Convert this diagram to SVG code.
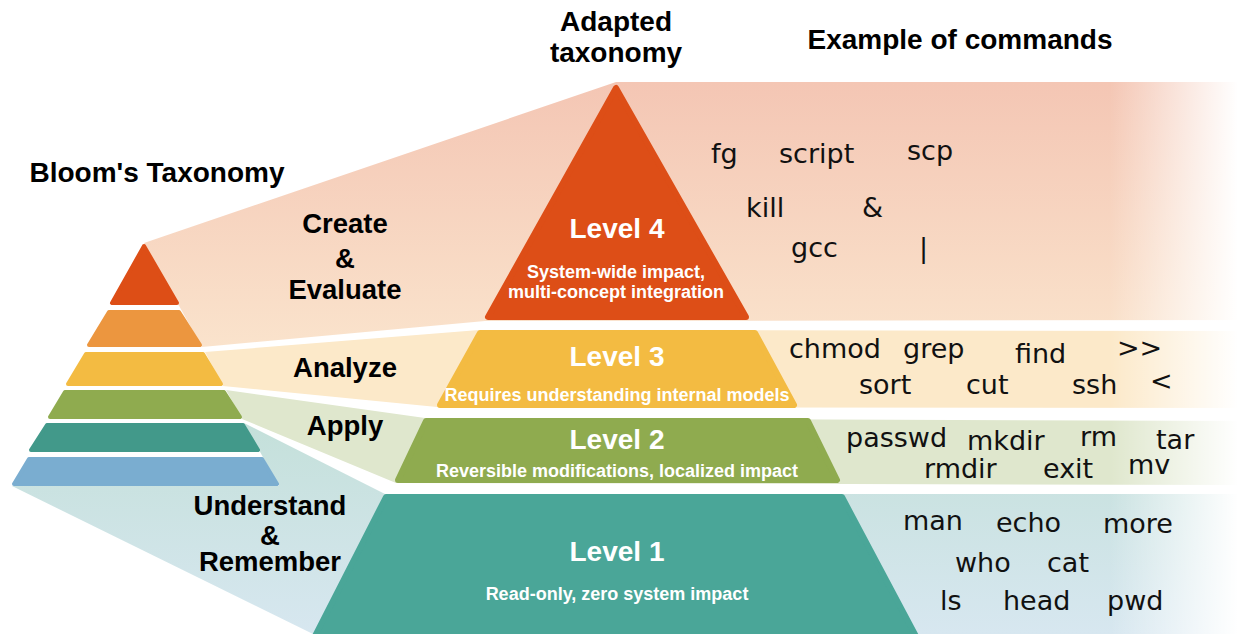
<svg xmlns="http://www.w3.org/2000/svg" width="1248" height="634" viewBox="0 0 1248 634">
<defs>
<linearGradient id="gPink" gradientUnits="userSpaceOnUse" x1="0" y1="83" x2="0" y2="347">
<stop offset="0" stop-color="#F4C6B4"/><stop offset="1" stop-color="#FAE3CC"/>
</linearGradient>
<linearGradient id="gTeal" gradientUnits="userSpaceOnUse" x1="0" y1="423" x2="0" y2="634">
<stop offset="0" stop-color="#C4E0DA"/><stop offset="1" stop-color="#D7E7F0"/>
</linearGradient>
<linearGradient id="gFade" gradientUnits="userSpaceOnUse" x1="1110" y1="0" x2="1238" y2="0">
<stop offset="0" stop-color="#FFFFFF" stop-opacity="0"/><stop offset="1" stop-color="#FFFFFF" stop-opacity="1"/>
</linearGradient>
</defs>
<style>
.h{font-family:"Liberation Sans",Arial,sans-serif;font-weight:bold;font-size:27.5px;fill:#000;text-anchor:middle}
.hh{font-family:"Liberation Sans",Arial,sans-serif;font-weight:bold;font-size:28px;fill:#000;text-anchor:middle}
.lv{font-family:"Liberation Sans",Arial,sans-serif;font-weight:bold;font-size:28px;fill:#fff;text-anchor:middle}
.sub{font-family:"Liberation Sans",Arial,sans-serif;font-weight:bold;font-size:18px;fill:#fff;text-anchor:middle}
.cmd{font-family:"DejaVu Sans",Verdana,sans-serif;font-size:27px;fill:#111}
.r4{stroke-linejoin:round;stroke-width:4}
.r6{stroke-linejoin:round;stroke-width:6}
</style>
<rect width="1248" height="634" fill="#fff"/>
<g id="connectors">
<polygon points="144,243 616,82 1248,82 1248,320 485,321 202,347" fill="url(#gPink)"/>
<polygon points="205,352 479,330 1248,331 1248,408 437,407 223,386" fill="#FCE9C9"/>
<polygon points="226,390 425,418 1248,421 1248,485 396,483 242,419" fill="#DFE7CD"/>
<polygon points="244,423 385,494 1248,494 1248,634 313,634 12,486 279,486" fill="url(#gTeal)"/>
<rect x="1110" y="80" width="138" height="554" fill="url(#gFade)"/>
</g>
<g id="bloom">
<text class="hh" x="157" y="182">Bloom's Taxonomy</text>
<g id="bloom-create-top"><polygon class="r4" points="144,246 112,303 177,303" fill="#DD4E16" stroke="#DD4E16"/></g>
<g id="bloom-evaluate"><polygon class="r4" points="109,312 179,312 200,345 89,345" fill="#EC963F" stroke="#EC963F"/></g>
<g id="bloom-analyze"><polygon class="r4" points="86,354 203,354 221,384 68,384" fill="#F3BB42" stroke="#F3BB42"/></g>
<g id="bloom-apply"><polygon class="r4" points="65,392 224,392 240,417 50,417" fill="#8FAB4F" stroke="#8FAB4F"/></g>
<g id="bloom-understand"><polygon class="r4" points="47,425 243,425 258,450 31,450" fill="#42998A" stroke="#42998A"/></g>
<g id="bloom-remember"><polygon class="r4" points="29,459 262,459 277,484 14,484" fill="#7AADD0" stroke="#7AADD0"/></g>
</g>
<g id="labels">
<text class="h" x="345" y="233">Create</text>
<text class="h" x="345" y="268">&amp;</text>
<text class="h" x="345" y="299">Evaluate</text>
<text class="h" x="345" y="377">Analyze</text>
<text class="h" x="345" y="435">Apply</text>
<text class="h" x="270" y="515">Understand</text>
<text class="h" x="270" y="545">&amp;</text>
<text class="h" x="270" y="571">Remember</text>
<text class="hh" x="616" y="31">Adapted</text>
<text class="hh" x="616" y="62">taxonomy</text>
<text class="hh" x="960" y="49">Example of commands</text>
</g>
<g id="level4">
<polygon class="r6" points="616,88 488,317 746,317" fill="#DD4E17" stroke="#DD4E17"/>
<text class="lv" x="617" y="238">Level 4</text>
<text class="sub" x="616" y="278">System-wide impact,</text>
<text class="sub" x="616" y="298">multi-concept integration</text>
</g>
<g id="level3">
<polygon class="r6" points="480,333 755,333 794,405 440,405" fill="#F3BB42" stroke="#F3BB42"/>
<text class="lv" x="617" y="366">Level 3</text>
<text class="sub" x="617" y="401">Requires understanding internal models</text>
</g>
<g id="level2">
<polygon class="r6" points="426,421 808,421 837,480 398,480" fill="#8FAB4F" stroke="#8FAB4F"/>
<text class="lv" x="617" y="449">Level 2</text>
<text class="sub" x="617" y="477">Reversible modifications, localized impact</text>
</g>
<g id="level1">
<polygon class="r6" points="386,497 842,497 918,640 313,640" fill="#4AA698" stroke="#4AA698"/>
<text class="lv" x="617" y="561">Level 1</text>
<text class="sub" x="617" y="600">Read-only, zero system impact</text>
</g>
<g id="commands4">
<text class="cmd" x="711" y="163">fg</text>
<text class="cmd" x="779" y="163">script</text>
<text class="cmd" x="907" y="160">scp</text>
<text class="cmd" x="746" y="217">kill</text>
<text class="cmd" x="862" y="217">&amp;</text>
<text class="cmd" x="791" y="257">gcc</text>
<text class="cmd" x="919" y="257">|</text>
</g>
<g id="commands3">
<text class="cmd" x="789" y="358">chmod</text>
<text class="cmd" x="903" y="358">grep</text>
<text class="cmd" x="1015" y="363">find</text>
<text class="cmd" x="1117" y="357">&gt;&gt;</text>
<text class="cmd" x="859" y="394">sort</text>
<text class="cmd" x="966" y="394">cut</text>
<text class="cmd" x="1072" y="394">ssh</text>
<text class="cmd" x="1150" y="390">&lt;</text>
</g>
<g id="commands2">
<text class="cmd" x="846" y="447">passwd</text>
<text class="cmd" x="967" y="450">mkdir</text>
<text class="cmd" x="1080" y="446">rm</text>
<text class="cmd" x="1156" y="449">tar</text>
<text class="cmd" x="924" y="478">rmdir</text>
<text class="cmd" x="1043" y="478">exit</text>
<text class="cmd" x="1128" y="474">mv</text>
</g>
<g id="commands1">
<text class="cmd" x="903" y="530">man</text>
<text class="cmd" x="996" y="532">echo</text>
<text class="cmd" x="1103" y="533">more</text>
<text class="cmd" x="955" y="572">who</text>
<text class="cmd" x="1047" y="572">cat</text>
<text class="cmd" x="940" y="610">ls</text>
<text class="cmd" x="1003" y="610">head</text>
<text class="cmd" x="1107" y="610">pwd</text>
</g>
</svg>
